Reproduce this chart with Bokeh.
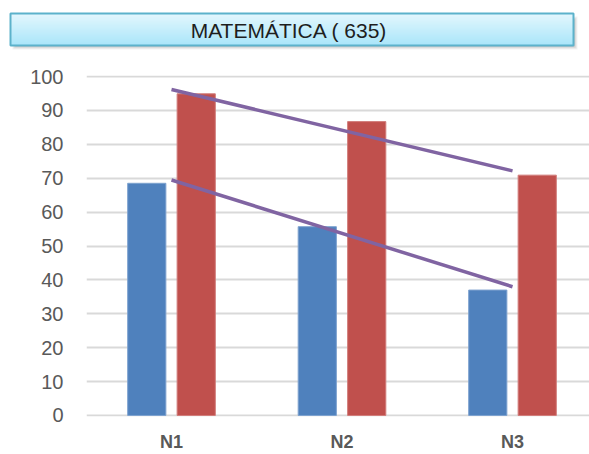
import numpy as np
from bokeh.plotting import figure
from bokeh.layouts import column, row
from bokeh.models import Range1d, FixedTicker
from bokeh.core.properties import value
from bokeh.embed import file_html
from bokeh.resources import INLINE

# ---- data ----
title_text = "MATEMÁTICA  ( 635)"
categories = ["N1", "N2", "N3"]
serie_azul = [68.5, 55.7, 37.0]
serie_roja = [94.9, 86.7, 70.9]
y_ticks = [0, 10, 20, 30, 40, 50, 60, 70, 80, 90, 100]

BLUE = "#4f81bd"
RED = "#c0504d"
PURPLE = "#8064a2"
GRID = "#d9d9d9"
FONT = "Liberation Sans"

# ---- title banner ----
top = figure(width=589, height=56, output_backend="svg", toolbar_location=None,
             x_range=Range1d(0, 589), y_range=Range1d(56, 0),
             min_border=0, min_border_left=0, min_border_right=0,
             min_border_top=0, min_border_bottom=0)
top.axis.visible = False
top.grid.visible = False
top.outline_line_color = None
top.background_fill_color = "white"
top.border_fill_color = "white"

bx0, bx1, by0, by1 = 10, 573, 13, 45
for i, a in enumerate([0.05, 0.06, 0.07, 0.08]):
    d = 4 - i
    top.quad(left=bx0 + 2 + i, right=bx1 + d, top=by0 + 3 + i, bottom=by1 + d,
             fill_color="#000000", fill_alpha=a, line_color=None)
c_top = np.array([0xe2, 0xf7, 0xfe])
c_bot = np.array([0xab, 0xe6, 0xfa])
n = 16
edges = np.linspace(by0, by1, n + 1)
for k in range(n):
    t = k / (n - 1)
    c = (c_top * (1 - t) + c_bot * t).astype(int)
    col = "#%02x%02x%02x" % tuple(c)
    top.quad(left=bx0, right=bx1, top=edges[k], bottom=edges[k + 1] + 0.5,
             fill_color=col, line_color=None)
top.quad(left=bx0, right=bx1, top=by0, bottom=by1, fill_color=None,
         line_color="#5cb2cb", line_width=2)
top.text(x=[(bx0 + bx1) / 2], y=[(by0 + by1) / 2 + 1], text=[title_text],
         text_align="center", text_baseline="middle",
         text_font=value(FONT), text_font_size="21px", text_color="#1e1e1e")

# ---- chart ----
x = np.arange(len(categories))
p = figure(width=589, height=398, output_backend="svg", toolbar_location=None,
           x_range=Range1d(-0.4985, 2.4516), y_range=Range1d(-0.3, 100.3),
           min_border_left=86, min_border_right=0, min_border_top=19,
           min_border_bottom=36)
p.outline_line_color = None
p.background_fill_color = "white"
p.border_fill_color = "white"

p.vbar(x=x - 0.145, top=serie_azul, width=0.224, bottom=0,
       fill_color=BLUE, line_color="#7ea2cf", line_width=1)
p.vbar(x=x + 0.145, top=serie_roja, width=0.224, bottom=0,
       fill_color=RED, line_color="#d17d7b", line_width=1)

for serie in (serie_roja, serie_azul):
    m, b = np.polyfit(x, serie, 1)
    xs = np.array([x[0], x[-1]], dtype=float)
    p.line(xs, m * xs + b, line_color=PURPLE, line_width=3.5)

p.xgrid.visible = False
p.ygrid.grid_line_color = GRID
p.ygrid.grid_line_width = 2
p.yaxis.ticker = FixedTicker(ticks=y_ticks)
p.xaxis.ticker = FixedTicker(ticks=list(x))
p.xaxis.major_label_overrides = {int(i): c for i, c in zip(x, categories)}

for ax in (p.xaxis, p.yaxis):
    ax.axis_line_color = None
    ax.major_tick_line_color = None
    ax.minor_tick_line_color = None
    ax.major_tick_out = 0
    ax.major_tick_in = 0
    ax.major_label_text_font = FONT
    ax.major_label_text_color = "#595959"

p.yaxis.major_label_text_font_size = "20px"
p.yaxis.major_label_standoff = 23
p.xaxis.major_label_text_font_size = "18px"
p.xaxis.major_label_text_font_style = "bold"
p.xaxis.major_label_standoff = 15

layout = column(row(top, spacing=0), p, spacing=0)
open("out.html", "w").write(file_html(layout, INLINE))
